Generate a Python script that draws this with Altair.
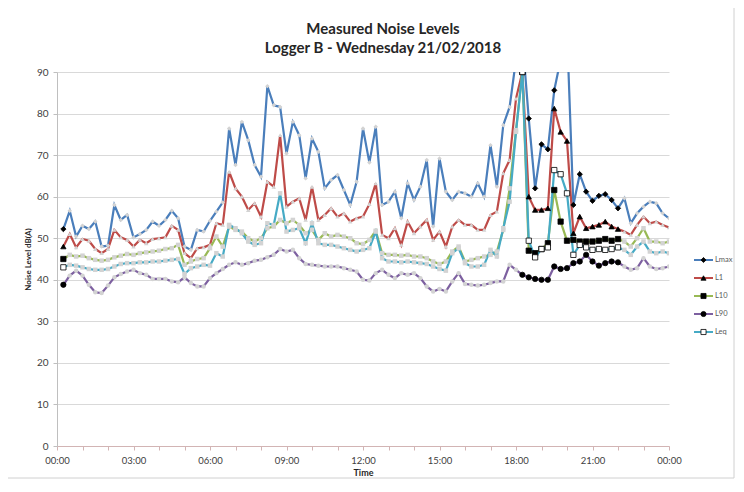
import altair as alt
import pandas as pd

series = ["Lmax", "L1", "L10", "L90", "Leq"]
colors = ["#4a7ebb", "#be4b48", "#98b954", "#7d60a0", "#46aac5"]
shapes = ["diamond", "triangle-up", "square", "circle", "square"]

# 15-minute intervals, 00:15 ... 24:00
lmax = [52.2, 56.6, 50.4, 53.0, 52.2, 54.0, 48.0, 48.2, 58.0, 54.4, 55.6, 50.2, 51.0, 52.0, 54.0, 53.0,
        54.4, 56.6, 54.8, 48.0, 47.2, 52.0, 51.6, 54.2, 56.4, 58.6, 76.4, 67.6, 78.0, 73.6, 67.6, 64.8,
        86.6, 82.0, 81.6, 70.4, 78.0, 74.8, 64.4, 74.0, 70.8, 62.0, 64.0, 65.2, 61.6, 58.0, 63.6, 76.4,
        68.2, 76.8, 58.0, 58.8, 61.2, 54.8, 63.2, 59.2, 62.4, 68.8, 52.8, 69.2, 61.2, 59.2, 61.2, 60.8,
        60.0, 63.2, 60.0, 72.4, 62.4, 77.2, 81.6, 93.0, 98.0, 78.8, 62.0, 72.6, 71.4, 85.6, 93.0, 100.0,
        58.0, 65.4, 61.2, 59.0, 60.2, 60.6, 59.2, 57.2, 59.6, 53.6, 56.0, 57.6, 58.8, 58.4, 56.0, 54.8]
l1 = [48.0, 51.0, 47.8, 49.8, 49.4, 47.4, 46.4, 47.4, 52.0, 50.2, 49.6, 48.0, 49.6, 48.8, 49.8, 50.0,
      50.2, 53.0, 52.0, 46.4, 45.2, 47.6, 47.8, 48.4, 53.6, 53.2, 66.0, 62.0, 60.0, 56.8, 58.4, 55.2,
      63.6, 62.4, 74.8, 57.6, 58.8, 59.6, 54.4, 62.4, 54.4, 55.6, 57.2, 55.2, 56.0, 54.0, 54.8, 55.2,
      58.2, 63.2, 50.8, 50.0, 52.4, 48.4, 54.0, 51.2, 52.8, 54.4, 49.6, 51.6, 48.0, 52.8, 54.4, 53.2,
      53.2, 52.0, 52.0, 55.6, 56.4, 65.6, 68.8, 83.6, 90.0, 60.0, 56.8, 56.8, 57.2, 81.2, 75.6, 73.4,
      51.2, 55.2, 52.4, 52.8, 53.2, 54.0, 52.8, 52.2, 51.6, 50.8, 53.2, 55.2, 53.6, 54.0, 53.2, 52.6]
l10 = [45.0, 46.0, 45.6, 45.8, 45.2, 44.8, 44.6, 44.8, 45.4, 45.8, 46.2, 46.0, 46.4, 46.6, 46.8, 47.0,
       47.4, 47.6, 48.4, 43.6, 44.4, 45.0, 45.2, 47.6, 50.4, 48.0, 52.8, 52.0, 51.6, 50.0, 49.2, 50.0,
       52.4, 52.8, 54.4, 53.6, 54.4, 53.2, 51.2, 52.0, 49.6, 51.2, 50.4, 50.8, 50.4, 50.0, 48.8, 48.6,
       49.6, 51.8, 46.4, 46.0, 46.0, 45.8, 46.0, 45.6, 45.6, 45.2, 44.4, 43.8, 44.4, 46.8, 48.0, 44.4,
       44.8, 45.2, 45.6, 46.0, 46.8, 52.0, 62.0, 76.0, 90.0, 47.0, 46.4, 47.4, 48.8, 61.6, 54.0, 49.4,
       49.6, 49.2, 49.2, 49.2, 49.4, 49.8, 49.4, 49.8, 49.2, 48.0, 50.0, 52.4, 49.2, 49.2, 48.8, 49.2]
l90 = [38.8, 41.0, 42.2, 41.0, 38.8, 37.0, 36.8, 38.6, 40.6, 41.4, 42.0, 42.4, 41.6, 41.2, 40.2, 40.2,
       40.2, 39.6, 39.4, 40.6, 39.2, 38.4, 38.4, 40.4, 41.6, 42.6, 43.6, 44.2, 43.6, 44.0, 44.6, 44.8,
       45.4, 46.0, 47.4, 46.8, 47.2, 45.2, 43.8, 43.6, 43.4, 43.2, 43.2, 43.2, 42.8, 42.4, 42.0, 40.0,
       39.8, 41.6, 42.4, 41.2, 40.4, 41.6, 41.2, 41.6, 40.4, 38.4, 37.2, 37.8, 37.2, 39.6, 41.6, 39.0,
       38.8, 38.6, 38.8, 39.2, 39.6, 39.6, 43.6, 42.4, 41.2, 40.6, 40.2, 40.0, 40.0, 43.2, 42.6, 42.8,
       44.0, 44.4, 46.0, 44.4, 43.4, 44.0, 44.4, 44.2, 43.2, 42.4, 42.8, 45.2, 43.2, 42.6, 42.8, 43.2]
leq = [43.0, 43.6, 43.4, 43.0, 42.6, 42.4, 42.4, 42.6, 43.2, 43.8, 44.0, 44.0, 44.2, 44.2, 44.4, 44.4,
       44.6, 44.8, 45.0, 41.4, 42.8, 43.2, 43.6, 43.4, 46.4, 45.6, 53.2, 52.4, 51.2, 49.2, 48.4, 48.8,
       53.6, 53.2, 60.8, 51.6, 52.0, 52.4, 48.8, 53.6, 48.8, 48.4, 48.4, 48.0, 47.6, 47.2, 46.8, 47.2,
       47.6, 51.6, 45.2, 44.4, 44.4, 44.2, 44.4, 44.2, 44.0, 43.8, 43.2, 42.6, 42.2, 46.4, 47.6, 44.0,
       43.2, 43.2, 43.6, 47.2, 45.6, 52.4, 58.8, 75.6, 90.0, 49.4, 45.4, 47.4, 47.8, 66.4, 65.4, 60.8,
       46.0, 48.4, 47.8, 47.2, 47.4, 47.2, 47.4, 47.8, 47.2, 46.0, 48.0, 49.2, 46.8, 46.4, 46.8, 46.4]

# interval numbers (1 = 00:15) drawn with black markers
highlighted = [1] + list(range(73, 89))

values = {"Lmax": lmax, "L1": l1, "L10": l10, "L90": l90, "Leq": leq}
rows = []
for s in series:
    for i, v in enumerate(values[s]):
        k = i + 1
        rows.append({"hour": k * 0.25, "value": v, "series": s, "hl": k in highlighted})
df = pd.DataFrame(rows)

FONT = "Lato"
label_expr = ("datum.value % 3 == 0 ? ((datum.value % 24) < 10 ? '0' : '') + "
              "(datum.value % 24) + ':00' : ''")

x = alt.X("hour:Q", scale=alt.Scale(domain=[0, 24], nice=False),
          axis=alt.Axis(values=list(range(25)), labelExpr=label_expr, title="Time",
                        grid=False, domainColor="#d2b4b4", tickColor="#d2b4b4", tickSize=4,
                        labelPadding=5, labelFontSize=9.5, labelColor="#404040",
                        titleFontSize=9, titleFontWeight="bold", titlePadding=4,
                        labelFlush=False, labelOverlap=False))
y = alt.Y("value:Q", scale=alt.Scale(domain=[0, 90], nice=False),
          axis=alt.Axis(values=list(range(0, 91, 10)), title="Noise Level dB(A)",
                        grid=True, gridColor="#d9d9d9", domainColor="#bfbfbf",
                        tickColor="#bfbfbf", tickSize=4, labelPadding=5,
                        labelFontSize=10, labelColor="#404040", titleFontSize=8,
                        titleFontWeight="bold", titlePadding=4))
color = alt.Color("series:N", scale=alt.Scale(domain=series, range=colors), legend=None)
shape = alt.Shape("series:N", scale=alt.Scale(domain=series, range=shapes), legend=None)

base = alt.Chart(df)
lines = base.mark_line(strokeWidth=2.2, clip=True).encode(x=x, y=y, color=color, detail="series:N")
grey_pts = base.transform_filter("!datum.hl").mark_point(
    filled=True, size=20, color="#d3d3d3", opacity=1, clip=True).encode(x=x, y=y, shape=shape)
black_pts = base.transform_filter("datum.hl").mark_point(
    filled=True, size=28, stroke="black", strokeWidth=0.8, opacity=1, clip=True).encode(
    x=x, y=y, shape=shape,
    fill=alt.condition("datum.series == 'Leq'", alt.value("white"), alt.value("black")))
main = alt.layer(lines, grey_pts, black_pts)

leg_df = pd.DataFrame({"series": series})
leg_y = alt.Y("series:N", scale=alt.Scale(type="point", domain=series, range=[188, 260], padding=0),
              axis=None)
leg = alt.Chart(leg_df)
leg_lines = leg.mark_rule(strokeWidth=2).encode(x=alt.value(637), x2=alt.value(656), y=leg_y, color=color)
leg_pts = leg.mark_point(filled=True, size=26, stroke="black", strokeWidth=0.8, opacity=1).encode(
    x=alt.value(646.5), y=leg_y, shape=shape,
    fill=alt.condition("datum.series == 'Leq'", alt.value("white"), alt.value("black")))
leg_text = leg.mark_text(align="left", baseline="middle", fontSize=7.5, font=FONT, color="#595959").encode(
    x=alt.value(658), y=leg_y, text="series:N")
legend = alt.layer(leg_lines, leg_pts, leg_text)

frame = alt.Chart(pd.DataFrame({"a": [0]})).mark_rect(
    fillOpacity=0, stroke="#d0d0d0", strokeWidth=1).encode(
    x=alt.value(-52), x2=alt.value(677), y=alt.value(-66), y2=alt.value(406))

chart = alt.layer(frame, main, legend).resolve_scale(y="independent").properties(
    width=612, height=374,
    autosize=alt.AutoSizeParams(type="none"),
    padding={"left": 49, "top": 64, "right": 67, "bottom": 36},
    title=alt.TitleParams(text=["Measured Noise Levels", "Logger B - Wednesday 21/02/2018"],
                          fontSize=15, font=FONT, fontWeight="bold", color="#262626",
                          lineHeight=19, anchor="middle", dx=20, offset=-50),
).configure_view(stroke=None).configure_axis(labelFont=FONT, titleFont=FONT, titleColor="#262626")

chart.save("out.html", embed_options={"renderer": "svg", "actions": False})
